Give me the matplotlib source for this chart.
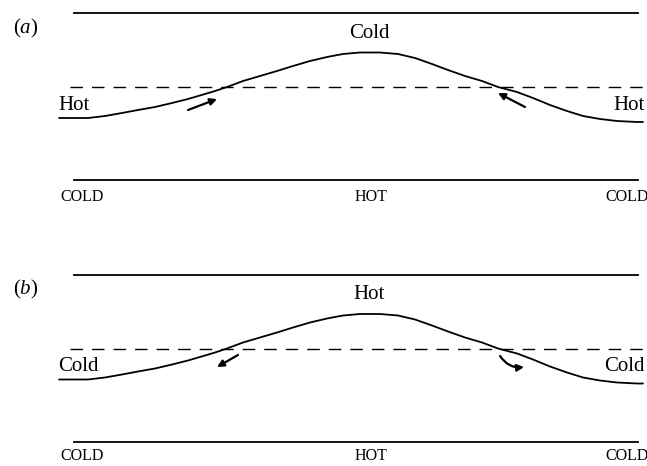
import matplotlib.pyplot as plt

plt.rcParams['font.family'] = ['Liberation Serif', 'DejaVu Serif']
plt.rcParams['mathtext.fontset'] = 'custom'
plt.rcParams['mathtext.it'] = 'Liberation Serif:italic'
plt.rcParams['mathtext.rm'] = 'Liberation Serif'

# interface profile (pixels, panel (a) frame)
curve_x = [59, 88, 105, 122, 138, 155, 172, 188, 205, 215, 227, 243, 260, 277, 293, 310,
           327, 343, 360, 380, 398, 415, 432, 448, 465, 482, 498, 517, 533, 550, 567,
           583, 600, 617, 637, 643]
curve_y = [118, 118, 116, 113, 110, 107, 103, 99, 94, 91, 87, 81, 76, 71, 66, 61,
           57, 54, 52.5, 52.5, 54, 58, 64, 70, 76, 81, 87, 92, 98, 105, 111,
           116, 119, 121, 122, 122]

panels = ['a', 'b']
offsets = [0, 261.5]
top_labels = ['Cold', 'Hot']
side_labels = ['Hot', 'Cold']
wall_labels = ['COLD', 'HOT', 'COLD']
wall_x = [60, 371, 605]

# arrows near the crossings: (start, end) per panel
arrows_a = [((188, 110), (217, 99)), ((525, 107), (498, 93))]
arrows_b = [((238, 355), (217, 367)), ((500, 356), (524, 367))]
arrow_rads = [[0, 0], [0, 0.3]]

fig = plt.figure(figsize=(6.47, 4.66), dpi=100)
ax = fig.add_axes([0, 0, 1, 1])
ax.set_xlim(0, 647)
ax.set_ylim(466, 0)
ax.axis('off')

for k, p in enumerate(panels):
    off = offsets[k]
    # walls
    ax.plot([74, 638], [13 + off, 13 + off], color='black', lw=1.3)
    ax.plot([74, 638], [180 + off, 180 + off], color='black', lw=1.3)
    # mean level
    ax.plot([70, 647], [87 + off, 87 + off], color='black', lw=1.0,
            linestyle=(0, (9.0, 6.5)))
    # interface
    ax.plot(curve_x, [y + off for y in curve_y], color='black', lw=1.3,
            solid_capstyle='round', solid_joinstyle='round')

    ax.text(13, 28 + off, '($\\it{' + p + '}$)', fontsize=15, ha='left', va='center')
    ax.text(369, 33 + off, top_labels[k], fontsize=15, ha='center', va='center')
    ax.text(58, 105 + off, side_labels[k], fontsize=15, ha='left', va='center')
    ax.text(647 - 2, 105 + off, side_labels[k], fontsize=15, ha='right', va='center')
    for lab, x in zip(wall_labels, wall_x):
        ha = 'center' if lab == 'HOT' else 'left'
        ax.text(x, 197 + off - (2 if k else 0), lab, fontsize=11.5, ha=ha, va='center')

    arrs = arrows_a if k == 0 else arrows_b
    for (s, e), rad in zip(arrs, arrow_rads[k]):
        ax.annotate('', xy=e, xytext=s,
                    arrowprops=dict(arrowstyle='-|>', color='black', lw=1.6,
                                    mutation_scale=10, shrinkA=0, shrinkB=0,
                                    connectionstyle='arc3,rad=%s' % rad))

fig.savefig('out.png', dpi=100)
